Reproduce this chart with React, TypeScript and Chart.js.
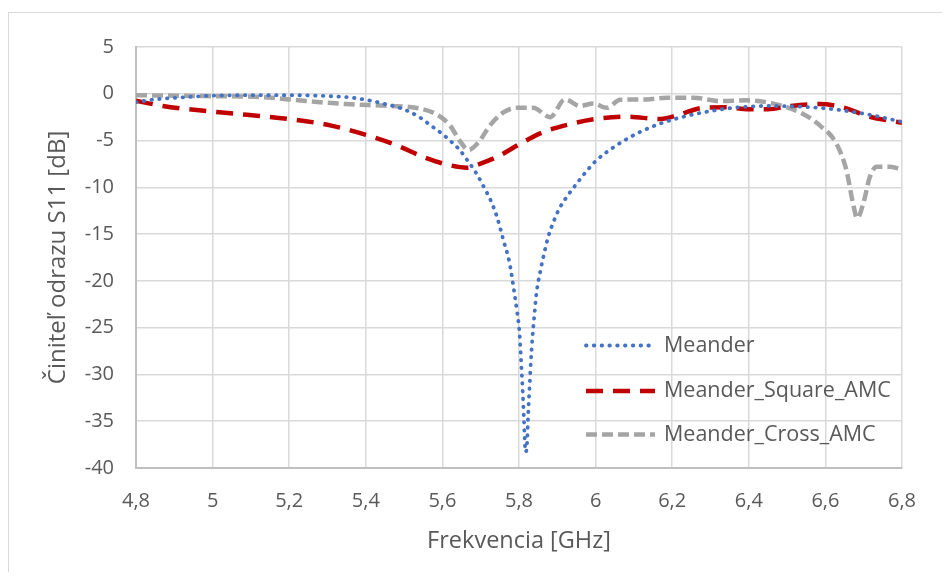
import React, { useEffect, useRef } from 'react';
import { Chart, registerables } from 'chart.js';

Chart.register(...registerables);

// ---- Data ----
const meanderFreq = [
  4.8, 4.85, 4.9, 4.95, 5.0, 5.1, 5.2, 5.3, 5.36, 5.42, 5.445, 5.48, 5.51, 5.54, 5.57, 5.6, 5.62, 5.645,
  5.665, 5.69, 5.71, 5.725, 5.742, 5.759, 5.775, 5.785, 5.794, 5.801, 5.806, 5.81, 5.813, 5.817, 5.821,
  5.824, 5.828, 5.831, 5.835, 5.84, 5.846, 5.855, 5.866, 5.877, 5.89, 5.905, 5.925, 5.945, 5.96, 5.98, 6.0,
  6.055, 6.115, 6.175, 6.24, 6.3, 6.36, 6.45, 6.53, 6.62, 6.71, 6.8,
];
const meanderS11 = [
  -0.9, -0.6, -0.45, -0.3, -0.2, -0.15, -0.15, -0.25, -0.4, -0.8, -1.05, -1.4, -1.85, -2.5, -3.4, -4.3, -5.0, -6.0,
  -7.1, -8.6, -10.1, -11.3, -13.1, -15.6, -18.0, -20.5, -23.0, -25.4, -28.9, -32.1, -34.9, -38.3, -37.4,
  -34.2, -31.0, -28.6, -26.1, -23.7, -21.2, -19.1, -17.0, -15.2, -13.7, -12.3, -11.0, -9.9, -9.1, -8.1, -7.2,
  -5.5, -4.1, -3.1, -2.35, -1.85, -1.5, -1.3, -1.37, -1.65, -2.2, -3.0,
];

const squareFreq = [
  4.8, 4.87, 4.985, 5.09, 5.2, 5.31, 5.4, 5.48, 5.55, 5.61, 5.665, 5.69, 5.745, 5.805, 5.863, 5.933, 6.0,
  6.08, 6.17, 6.22, 6.28, 6.34, 6.4, 6.45, 6.51, 6.585, 6.645, 6.715, 6.8,
];
const squareS11 = [
  -0.75, -1.3, -1.85, -2.25, -2.7, -3.4, -4.4, -5.5, -6.75, -7.55, -7.9, -7.6, -6.7, -5.3, -4.1, -3.25, -2.7,
  -2.45, -2.7, -2.2, -1.5, -1.45, -1.65, -1.65, -1.3, -1.1, -1.45, -2.45, -3.1,
];

const crossFreq = [
  4.8, 4.985, 5.13, 5.245, 5.35, 5.46, 5.53, 5.585, 5.62, 5.645, 5.668, 5.694, 5.724, 5.759, 5.794, 5.837,
  5.881, 5.92, 5.959, 5.994, 6.029, 6.064, 6.133, 6.186, 6.255, 6.325, 6.394, 6.464, 6.534, 6.586, 6.629,
  6.655, 6.672, 6.683, 6.699, 6.716, 6.734, 6.769, 6.8,
];
const crossS11 = [
  -0.15, -0.25, -0.35, -0.78, -1.1, -1.3, -1.5, -2.2, -3.4, -5.0, -6.0, -5.2, -3.4, -2.0, -1.5, -1.5,
  -2.5, -0.6, -1.3, -1.05, -1.5, -0.65, -0.6, -0.42, -0.42, -0.78, -0.7, -1.05, -2.0, -3.4, -5.35,
  -8.2, -11.7, -13.3, -11.7, -8.9, -7.8, -7.8, -8.1,
];

const seriesNames = ['Meander', 'Meander_Square_AMC', 'Meander_Cross_AMC'];
const xAxisTitle = 'Frekvencia [GHz]';
const yAxisTitle = 'Činiteľ odrazu S11 [dB]';

const FONT = '"Open Sans", "Noto Sans", sans-serif';
const TEXT = '#595959';

const toPoints = (xs: number[], ys: number[]) => xs.map((x, i) => ({ x, y: ys[i] }));

const legendPlugin = {
  id: 'inlineLegend',
  afterDatasetsDraw(chart: any) {
    const { ctx, chartArea } = chart;
    const rows = [298.5, 344, 387.5];
    ctx.save();
    chart.data.datasets.forEach((ds: any, i: number) => {
      const y = chartArea.top + rows[i];
      const x0 = chartArea.left + 450;
      const x1 = chartArea.left + 519;
      ctx.strokeStyle = ds.borderColor;
      ctx.lineWidth = ds.borderWidth;
      ctx.lineCap = ds.borderCapStyle || 'butt';
      ctx.setLineDash(ds.borderDash || []);
      ctx.beginPath();
      ctx.moveTo(x0, y);
      ctx.lineTo(x1, y);
      ctx.stroke();
      ctx.setLineDash([]);
      ctx.fillStyle = TEXT;
      ctx.font = `21.5px ${FONT}`;
      ctx.textBaseline = 'middle';
      ctx.textAlign = 'left';
      ctx.fillText(ds.label, chartArea.left + 528, y);
    });
    ctx.restore();
  },
};

function ChartView() {
  const ref = useRef<HTMLCanvasElement | null>(null);
  useEffect(() => {
    document.body.style.overflow = 'hidden';
    if (!ref.current) return;
    const chart = new Chart(ref.current, {
      type: 'line',
      data: {
        datasets: [
          {
            label: seriesNames[0],
            data: toPoints(meanderFreq, meanderS11),
            borderColor: '#4472c4',
            borderWidth: 3.8,
            borderDash: [0.5, 7.3],
            borderCapStyle: 'round',
            pointRadius: 0,
            cubicInterpolationMode: 'monotone',
            fill: false,
          },
          {
            label: seriesNames[1],
            data: toPoints(squareFreq, squareS11),
            borderColor: '#c00000',
            borderWidth: 4.5,
            borderDash: [17, 10],
            borderCapStyle: 'butt',
            pointRadius: 0,
            cubicInterpolationMode: 'monotone',
            fill: false,
          },
          {
            label: seriesNames[2],
            data: toPoints(crossFreq, crossS11),
            borderColor: '#a5a5a5',
            borderWidth: 4.5,
            borderDash: [11, 5],
            borderCapStyle: 'butt',
            pointRadius: 0,
            cubicInterpolationMode: 'monotone',
            fill: false,
          },
        ],
      },
      options: {
        animation: false,
        responsive: true,
        maintainAspectRatio: false,
        layout: { padding: { top: 29, right: 40, left: 0, bottom: 0 } },
        plugins: {
          legend: { display: false },
          tooltip: { enabled: false },
        },
        scales: {
          x: {
            type: 'linear',
            min: 4.8,
            max: 6.8,
            afterFit: (s: any) => {
              s.height = 104;
            },
            ticks: {
              stepSize: 0.2,
              padding: 21,
              color: TEXT,
              font: { family: FONT, size: 20 },
              maxRotation: 0,
              callback: (v: any) => String(Number(Number(v).toFixed(1))).replace('.', ','),
            },
            grid: { color: '#d9d9d9', lineWidth: 1.5, drawTicks: false },
            border: { color: '#bfbfbf', width: 2 },
            title: {
              display: true,
              text: xAxisTitle,
              color: TEXT,
              font: { family: FONT, size: 23.5 },
              padding: { top: 0, bottom: 17 },
            },
          },
          y: {
            type: 'linear',
            min: -40,
            max: 5,
            afterFit: (s: any) => {
              s.width = 127;
            },
            ticks: {
              stepSize: 5,
              padding: 22,
              color: TEXT,
              font: { family: FONT, size: 20 },
            },
            grid: { color: '#d9d9d9', lineWidth: 1.5, drawTicks: false },
            border: { color: '#bfbfbf', width: 2 },
            title: {
              display: true,
              text: yAxisTitle,
              color: TEXT,
              font: { family: FONT, size: 24 },
              padding: { top: 34.5, bottom: 0 },
            },
          },
        },
      },
      plugins: [legendPlugin],
    } as any);
    return () => chart.destroy();
  }, []);
  return (
    <div style={{ paddingTop: 4 }}>
      <div
        style={{
          borderTop: '1px solid #d9d9d9',
          borderLeft: '1px solid #d9d9d9',
          width: 933,
          height: 559,
          position: 'relative',
        }}
      >
        <canvas ref={ref} />
      </div>
    </div>
  );
}

export default function App() {
  return <ChartView />;
}
